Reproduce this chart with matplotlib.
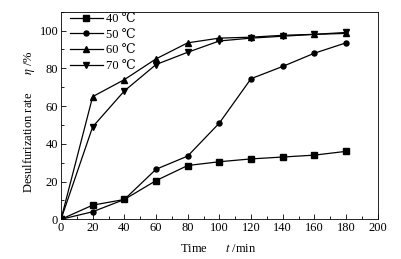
import matplotlib
matplotlib.use("Agg")
import matplotlib.pyplot as plt
from matplotlib.ticker import MultipleLocator

plt.rcParams['font.family'] = ['Liberation Serif', 'DejaVu Serif']
plt.rcParams['mathtext.fontset'] = 'stix'

time = [0, 20, 40, 60, 80, 100, 120, 140, 160, 180]
s40 = [0, 7.5, 10.5, 20.5, 28.5, 30.5, 32, 33, 34, 36]
s50 = [0, 4, 10.5, 26.5, 33.5, 51, 74.5, 81, 88, 93.5]
s60 = [0, 65, 74, 85, 93.5, 96, 96.5, 97.5, 98, 98.5]
s70 = [0, 49, 68, 82, 88.5, 94.5, 96, 97, 98, 99]
labels = ['40 ℃', '50 ℃', '60 ℃', '70 ℃']

fig = plt.figure(figsize=(4.02, 2.59), dpi=100)
ax = fig.add_axes([61/402, 1-219.3/259, (377.7-61)/402, (219.3-11.7)/259])

ax.plot(time, s40, '-s', color='black', lw=0.9, ms=4.2, label=labels[0])
ax.plot(time, s50, '-o', color='black', lw=0.9, ms=3.6, label=labels[1])
ax.plot(time, s60, '-^', color='black', lw=0.9, ms=4.2, label=labels[2])
ax.plot(time, s70, '-v', color='black', lw=0.9, ms=4.2, label=labels[3])

ax.set_xlim(0, 200)
ax.set_ylim(0, 110)
ax.xaxis.set_major_locator(MultipleLocator(20))
ax.xaxis.set_minor_locator(MultipleLocator(10))
ax.yaxis.set_major_locator(MultipleLocator(20))
ax.yaxis.set_minor_locator(MultipleLocator(10))
ax.tick_params(which='both', direction='in', top=False, right=False, labelsize=9, pad=2)
ax.tick_params(which='major', length=3.5, width=0.6)
ax.tick_params(which='minor', length=2, width=0.6)
for sp in ax.spines.values():
    sp.set_linewidth(0.6)

ax.set_xlabel('Time      $\\mathit{t}$ /min', fontsize=9)
ax.set_ylabel('Desulfurization rate      $\\eta$ /%', fontsize=9)
ax.xaxis.set_label_coords(0.496, -0.112)
ax.yaxis.set_label_coords(-0.076, 0.47)

leg = ax.legend(loc='upper left', frameon=False, fontsize=9, handlelength=2.6,
                handletextpad=0.3, labelspacing=0.3, borderaxespad=0.0,
                borderpad=0.1, bbox_to_anchor=(0.025, 1.0))

fig.savefig('out.png', dpi=100)
